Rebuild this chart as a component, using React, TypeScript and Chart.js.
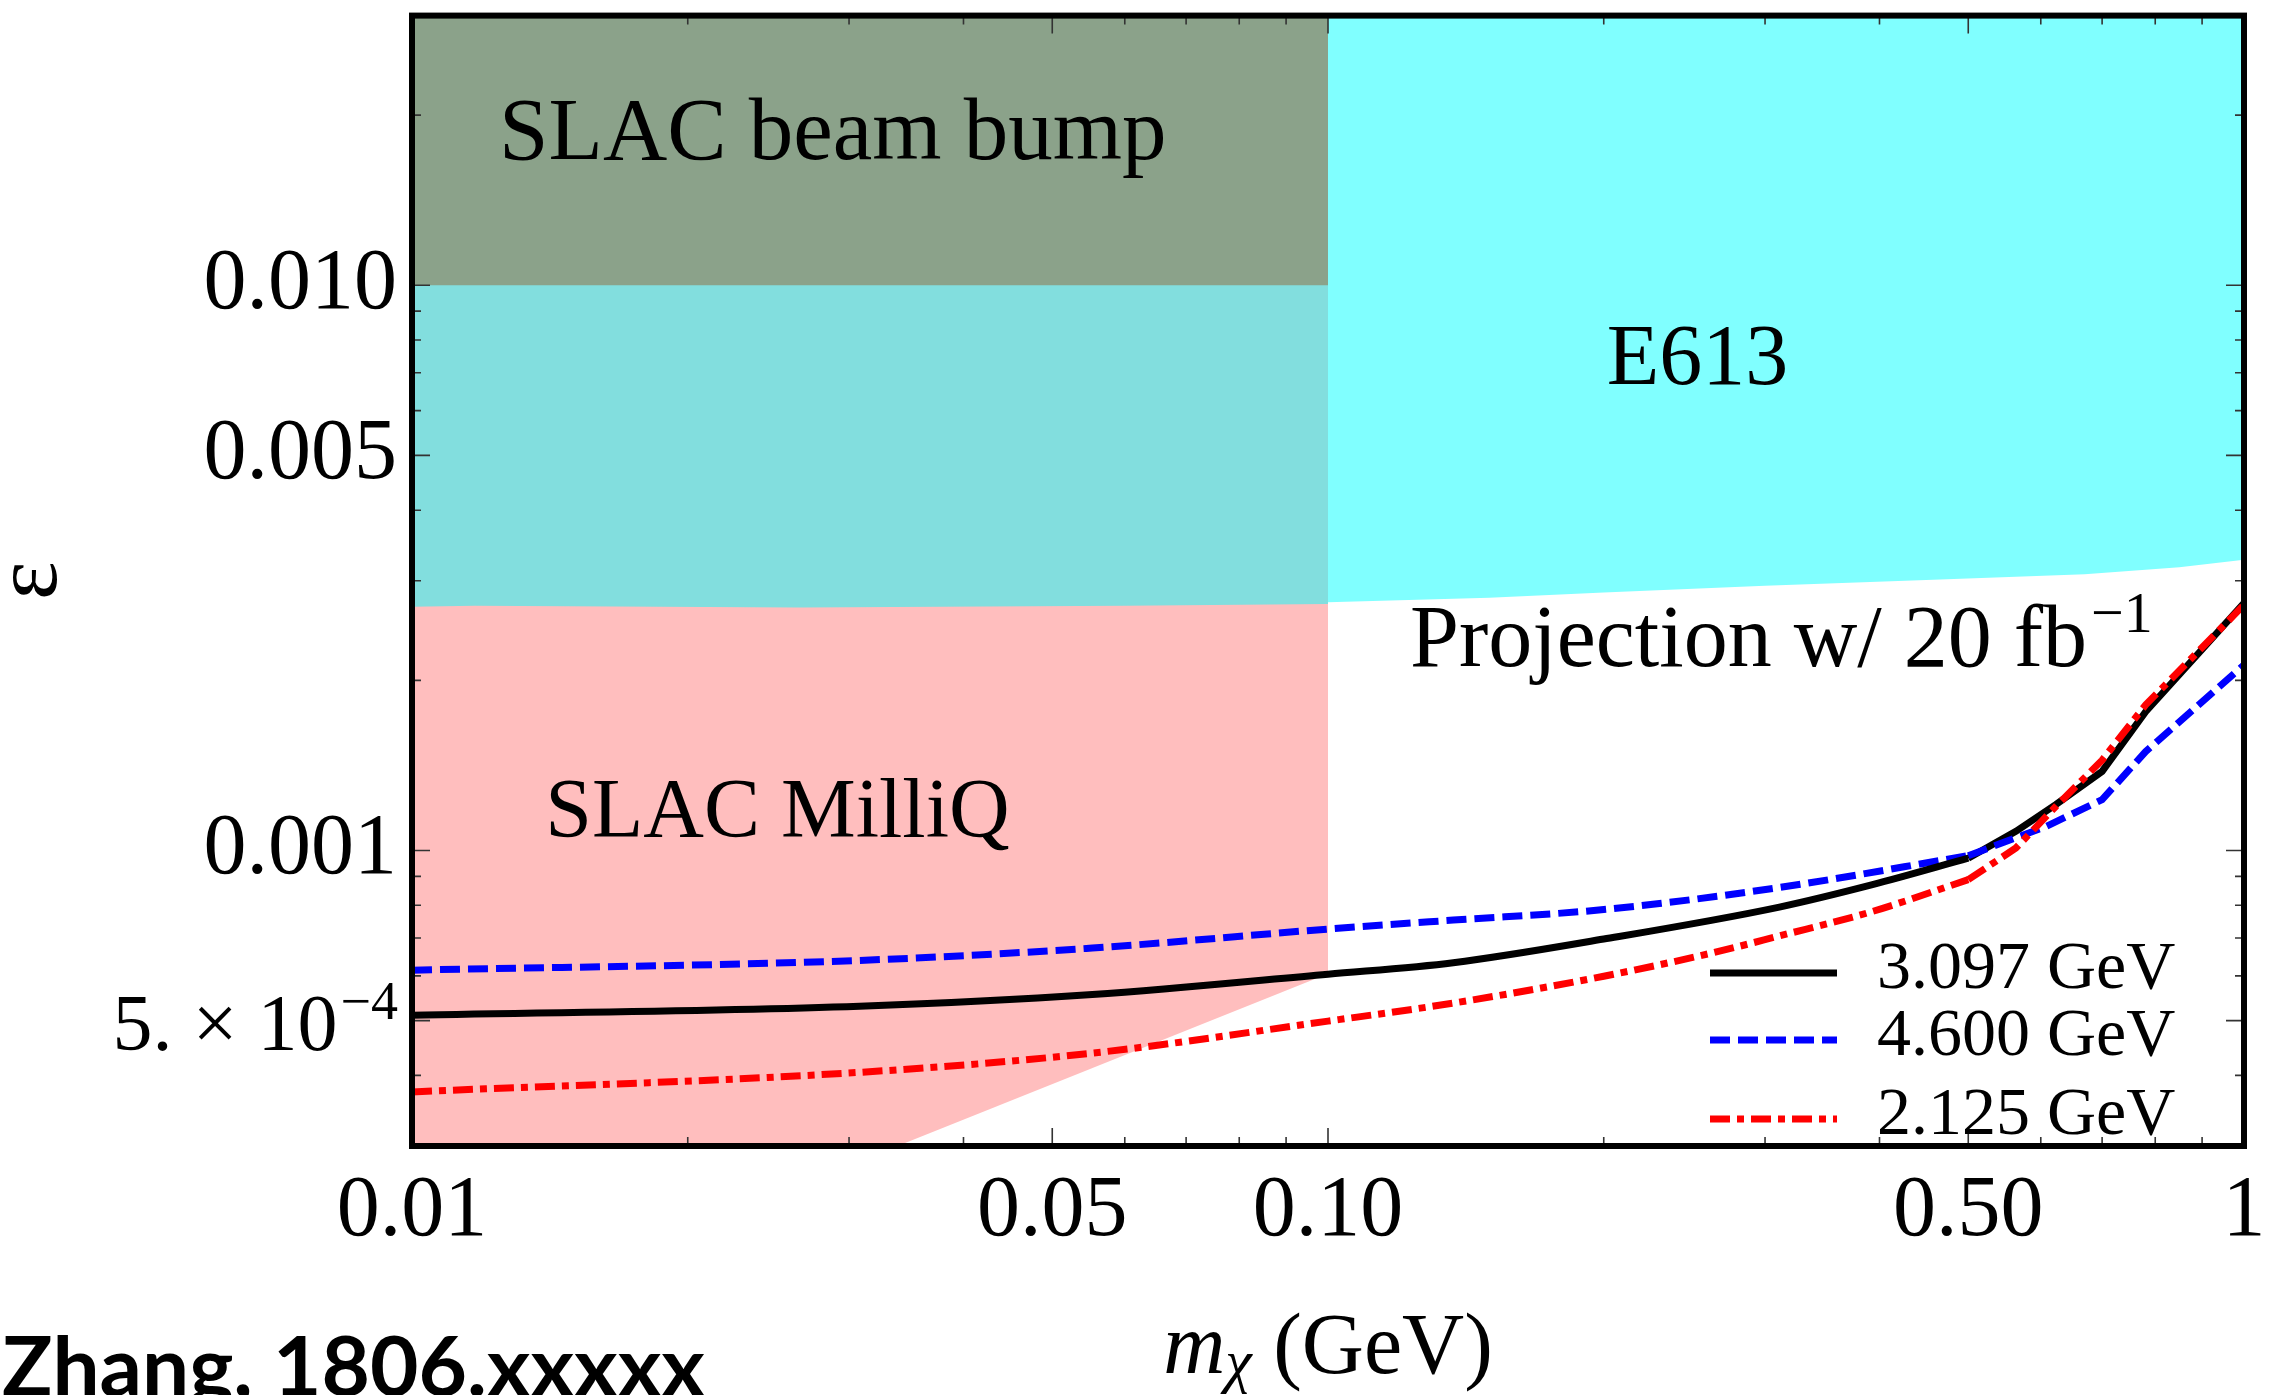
import React, { useEffect, useRef } from 'react';
import { Chart, registerables } from 'chart.js';

Chart.register(...registerables);

const SERIF = "'Liberation Serif', 'Times New Roman', serif";

// ---- axis ticks ----
const xTickValues = [0.01, 0.05, 0.1, 0.5, 1];
const xTickLabels = ['0.01', '0.05', '0.10', '0.50', '1'];
const xMinorTicks = [0.02, 0.03, 0.04, 0.06, 0.07, 0.08, 0.09, 0.2, 0.3, 0.4, 0.6, 0.7, 0.8, 0.9];
const yTickValues = [0.01, 0.005, 0.001, 0.0005];
const yTickLabels = ['0.010', '0.005', '0.001', ''];
const yMinorTicks = [0.0004, 0.0006, 0.0007, 0.0008, 0.0009, 0.002, 0.003, 0.004, 0.006, 0.007, 0.008, 0.009, 0.02];

// ---- projection curves ----
const legendLabels = ['3.097 GeV', '4.600 GeV', '2.125 GeV'];

const mass3097 = [0.01, 0.0308, 0.0553, 0.1, 0.137, 0.2, 0.311, 0.393, 0.5, 0.5636, 0.623, 0.7, 0.781, 1];
const eps3097 = [5.11e-4, 5.3e-4, 5.56e-4, 6.04e-4, 6.33e-4, 6.97e-4, 7.94e-4, 8.7e-4, 9.69e-4, 1.081e-3, 1.205e-3, 1.38e-3, 1.76e-3, 2.74e-3];

const mass4600 = [0.01, 0.0308, 0.0553, 0.1, 0.137, 0.2, 0.311, 0.5, 0.6075, 0.7, 0.781, 1];
const eps4600 = [6.14e-4, 6.39e-4, 6.72e-4, 7.26e-4, 7.53e-4, 7.86e-4, 8.6e-4, 9.79e-4, 1.102e-3, 1.23e-3, 1.496e-3, 2.13e-3];

const mass2125 = [0.01, 0.0308, 0.0553, 0.1, 0.137, 0.2, 0.263, 0.311, 0.393, 0.5, 0.5636, 0.623, 0.7, 0.781, 1];
const eps2125 = [3.74e-4, 4.05e-4, 4.38e-4, 4.99e-4, 5.37e-4, 5.99e-4, 6.59e-4, 7.06e-4, 7.8e-4, 8.88e-4, 1.01e-3, 1.196e-3, 1.445e-3, 1.81e-3, 2.72e-3];

// mass where the curves change from smooth to kinked
const kinkMass = 0.5;

// ---- excluded regions (lower boundaries, filled to the top) ----
const beamBumpMass = [0.01, 0.1];
const beamBumpEps = [0.01, 0.01];

const e613LowMass = [0.01, 0.0117, 0.0265, 0.06, 0.1];
const e613LowEps = [2.7e-3, 2.71e-3, 2.69e-3, 2.71e-3, 2.73e-3];

const e613Mass = [0.1, 0.15, 0.2, 0.3, 0.45, 0.67, 0.85, 1];
const e613Eps = [2.75e-3, 2.8e-3, 2.86e-3, 2.94e-3, 3.01e-3, 3.08e-3, 3.17e-3, 3.27e-3];

const milliqMass = [0.01, 0.0339, 0.1];
const milliqEps = [3e-4, 3e-4, 6.05e-4];

const toPts = (xs: number[], ys: number[]) => xs.map((x, i) => ({ x, y: ys[i] }));
const lowPart = (xs: number[], ys: number[]) => toPts(xs, ys).filter((p) => p.x <= kinkMass);
const highPart = (xs: number[], ys: number[]) => toPts(xs, ys).filter((p) => p.x >= kinkMass);

const region = (label: string, xs: number[], ys: number[], color: string) => ({
  label,
  data: toPts(xs, ys),
  borderWidth: 0,
  borderColor: 'rgba(0,0,0,0)',
  backgroundColor: color,
  fill: 'end',
  pointRadius: 0,
  tension: 0,
});

const curve = (label: string, data: any[], color: string, dash: number[], smooth: boolean) => ({
  label,
  data,
  borderColor: color,
  borderWidth: 7,
  borderDash: dash,
  borderCapStyle: 'butt',
  borderJoinStyle: 'miter',
  cubicInterpolationMode: smooth ? 'monotone' : 'default',
  tension: 0,
  pointRadius: 0,
  fill: false,
});

const decorPlugin = {
  id: 'decor',
  afterDatasetsDraw(chart: any) {
    const { ctx, chartArea: a, scales } = chart;
    const xs = scales.x;
    const ys = scales.y;
    ctx.save();
    ctx.fillStyle = '#000';
    ctx.textBaseline = 'alphabetic';

    // region annotations
    ctx.textAlign = 'center';
    const anns = [
      { text: 'SLAC beam bump', x: 0.0288, y: 0.0167, size: 89 },
      { text: 'E613', x: 0.2532, y: 0.0067, size: 86 },
      { text: 'SLAC MilliQ', x: 0.02506, y: 1.057e-3, size: 84 },
    ];
    anns.forEach((t) => {
      ctx.font = `${t.size}px ${SERIF}`;
      ctx.fillText(t.text, xs.getPixelForValue(t.x), ys.getPixelForValue(t.y));
    });

    // projection label with superscript
    ctx.textAlign = 'left';
    ctx.font = `88px ${SERIF}`;
    const px = xs.getPixelForValue(0.1229);
    const py = ys.getPixelForValue(2.12e-3);
    const main = 'Projection w/ 20 fb';
    ctx.fillText(main, px, py);
    const mw = ctx.measureText(main).width;
    ctx.font = `58px ${SERIF}`;
    ctx.fillText('\u22121', px + mw + 4, py - 34);

    // ticks (inward, all four sides)
    ctx.strokeStyle = '#333';
    ctx.lineWidth = 1.6;
    const drawX = (v: number, len: number) => {
      const p = xs.getPixelForValue(v);
      ctx.beginPath();
      ctx.moveTo(p, a.bottom); ctx.lineTo(p, a.bottom - len);
      ctx.moveTo(p, a.top); ctx.lineTo(p, a.top + len);
      ctx.stroke();
    };
    const drawY = (v: number, len: number) => {
      const p = ys.getPixelForValue(v);
      ctx.beginPath();
      ctx.moveTo(a.left, p); ctx.lineTo(a.left + len, p);
      ctx.moveTo(a.right, p); ctx.lineTo(a.right - len, p);
      ctx.stroke();
    };
    xTickValues.forEach((v) => drawX(v, 18));
    xMinorTicks.forEach((v) => drawX(v, 9));
    yTickValues.forEach((v) => drawY(v, 18));
    yMinorTicks.forEach((v) => drawY(v, 9));

    // frame
    ctx.strokeStyle = '#000';
    ctx.lineWidth = 6;
    ctx.strokeRect(a.left, a.top, a.right - a.left, a.bottom - a.top);

    // legend
    const rows = [a.bottom - 173, a.bottom - 106, a.bottom - 27];
    chart.data.datasets.slice(0, 3).forEach((ds: any, i: number) => {
      const y = rows[i];
      ctx.save();
      ctx.strokeStyle = ds.borderColor;
      ctx.lineWidth = ds.borderWidth;
      ctx.setLineDash(ds.borderDash || []);
      ctx.beginPath();
      ctx.moveTo(a.right - 534, y);
      ctx.lineTo(a.right - 407, y);
      ctx.stroke();
      ctx.restore();
      ctx.font = `68px ${SERIF}`;
      ctx.fillStyle = '#000';
      ctx.textAlign = 'left';
      ctx.fillText(ds.label, a.right - 367, y + 15);
    });
    ctx.restore();
  },
  afterDraw(chart: any) {
    const { ctx, chartArea: a, scales } = chart;
    const ys = scales.y;
    ctx.save();
    ctx.fillStyle = '#000';
    ctx.textBaseline = 'alphabetic';
    ctx.textAlign = 'left';

    // 5.×10^-4 tick label
    const ty = ys.getPixelForValue(0.0005);
    ctx.font = `54px ${SERIF}`;
    const supW = ctx.measureText('\u22124').width;
    ctx.font = `80px ${SERIF}`;
    const baseTxt = '5. \u00d7 10';
    const baseW = ctx.measureText(baseTxt).width;
    const right = a.left - 14;
    ctx.fillText(baseTxt, right - supW - 3 - baseW, ty + 29);
    ctx.font = `54px ${SERIF}`;
    ctx.fillText('\u22124', right - supW, ty - 2);

    // x-axis title m_chi (GeV)
    const cx = (a.left + a.right) / 2;
    const by = a.bottom + 227;
    ctx.font = `italic 86px ${SERIF}`;
    const wm = ctx.measureText('m').width;
    ctx.font = `italic 60px ${SERIF}`;
    const wc = ctx.measureText('\u03c7').width;
    ctx.font = `86px ${SERIF}`;
    const wg = ctx.measureText(' (GeV)').width;
    let x0 = cx - (wm + wc + wg) / 2;
    ctx.font = `italic 86px ${SERIF}`;
    ctx.fillText('m', x0, by);
    x0 += wm;
    ctx.font = `italic 60px ${SERIF}`;
    ctx.fillText('\u03c7', x0, by + 8);
    x0 += wc;
    ctx.font = `86px ${SERIF}`;
    ctx.fillText(' (GeV)', x0, by);

    // credit
    ctx.font = "bold 82px Lato, 'Open Sans', sans-serif";
    const credit = 'Zhang, 1806.xxxxx';
    const cw = ctx.measureText(credit).width;
    ctx.translate(2, chart.height + 1);
    ctx.scale(703 / cw, 1);
    ctx.fillText(credit, 0, 0);
    ctx.restore();
  },
};

export default function App() {
  const ref = useRef<HTMLCanvasElement>(null);

  useEffect(() => {
    document.body.style.margin = '0';
    const canvas = ref.current;
    if (!canvas) return;
    Chart.defaults.color = '#000';
    Chart.defaults.font.family = SERIF;

    const dash4600 = [20, 8];
    const dash2125 = [20, 7, 7, 7];

    const chart = new Chart(canvas, {
      type: 'line',
      data: {
        datasets: [
          // smooth low-mass parts (these carry the legend)
          curve(legendLabels[0], lowPart(mass3097, eps3097), '#000000', [], true),
          curve(legendLabels[1], lowPart(mass4600, eps4600), '#0000FF', dash4600, true),
          curve(legendLabels[2], lowPart(mass2125, eps2125), '#FF0000', dash2125, true),
          // kinked high-mass parts
          curve(legendLabels[2], highPart(mass2125, eps2125), '#FF0000', dash2125, false),
          curve(legendLabels[1], highPart(mass4600, eps4600), '#0000FF', dash4600, false),
          curve(legendLabels[0], highPart(mass3097, eps3097), '#000000', [], false),
          // excluded regions
          region('SLAC beam bump', beamBumpMass, beamBumpEps, '#8BA28A'),
          region('E613 (low mass)', e613LowMass, e613LowEps, '#82DEDE'),
          region('SLAC MilliQ', milliqMass, milliqEps, '#FFBEBE'),
          region('E613', e613Mass, e613Eps, '#80FFFF'),
        ] as any,
      },
      options: {
        responsive: false,
        maintainAspectRatio: false,
        animation: false,
        events: [],
        layout: { padding: { top: 15.6, right: 30, left: 0, bottom: 0 } },
        plugins: {
          legend: { display: false },
          tooltip: { enabled: false },
          filler: { drawTime: 'beforeDatasetsDraw' },
        } as any,
        scales: {
          x: {
            type: 'logarithmic',
            position: 'bottom',
            min: 0.01,
            max: 1,
            grid: { display: false, drawTicks: false },
            border: { display: false },
            ticks: {
              autoSkip: false,
              maxRotation: 0,
              padding: 15,
              color: '#000',
              font: { family: SERIF, size: 86 },
              callback: (v: any) => {
                const i = xTickValues.indexOf(Number(v));
                return i >= 0 ? xTickLabels[i] : '';
              },
            },
            afterBuildTicks: (s: any) => {
              s.ticks = xTickValues.map((v) => ({ value: v }));
            },
            afterFit: (s: any) => {
              s.height = 249;
              s.paddingLeft = 0;
              s.paddingRight = 0;
            },
          },
          y: {
            type: 'logarithmic',
            position: 'left',
            min: 3e-4,
            max: 0.03,
            grid: { display: false, drawTicks: false },
            border: { display: false },
            title: {
              display: true,
              text: '\u03b5',
              color: '#000',
              padding: 0,
              font: { family: SERIF, size: 92, lineHeight: 0.7 },
            },
            ticks: {
              autoSkip: false,
              padding: 15,
              color: '#000',
              font: { family: SERIF, size: 86 },
              callback: (v: any) => {
                const i = yTickValues.indexOf(Number(v));
                return i >= 0 ? yTickLabels[i] : '';
              },
            },
            afterBuildTicks: (s: any) => {
              s.ticks = yTickValues.map((v) => ({ value: v }));
            },
            afterFit: (s: any) => {
              s.width = 412;
              s.paddingTop = 0;
              s.paddingBottom = 0;
            },
          },
        } as any,
      },
      plugins: [decorPlugin],
    });

    return () => chart.destroy();
  }, []);

  return (
    <div style={{ position: 'fixed', left: 0, top: 0, width: 2274, height: 1395, background: '#ffffff', overflow: 'hidden' }}>
      <canvas ref={ref} width={2274} height={1395} style={{ display: 'block', width: 2274, height: 1395 }} />
    </div>
  );
}
